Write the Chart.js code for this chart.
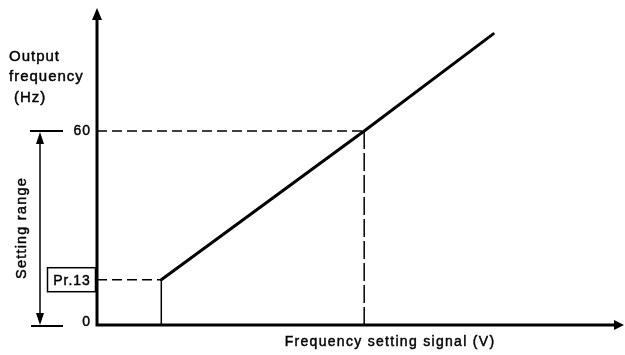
<!DOCTYPE html>
<html>
<head>
<meta charset="utf-8">
<script src="https://cdn.jsdelivr.net/npm/chart.js@4"></script>
<style>
html,body{margin:0;padding:0;background:#fff;}
canvas{display:block;}
</style>
</head>
<body>
<canvas id="c" width="625" height="355"></canvas>
<script>
// ---- data ----
const signalV = [1.22, 5.07, 7.52];        // frequency setting signal (arbitrary V units)
const outputHz = [14, 60, 90];             // output frequency (Hz)
const yTickValues = [0, 60];
const yTickLabels = ['0', '60'];
const prLabel = 'Pr.13';
const xTitle = 'Frequency setting signal (V)';
const yTitleLines = ['Output', 'frequency', '(Hz)'];
const rangeLabel = 'Setting range';

const prV = signalV[0], prHz = outputHz[0];
const ratedV = signalV[1], ratedHz = outputHz[1];

const FONT = '"Liberation Sans", Arial, sans-serif';

function heavyText(ctx, s, x, y) {
  ctx.fillText(s, x, y);
  ctx.strokeText(s, x, y);
}

const overlay = {
  id: 'overlay',
  afterDraw(chart) {
    const ctx = chart.ctx;
    const xs = chart.scales.x, ys = chart.scales.y;
    const x0 = xs.getPixelForValue(0);
    const y0 = ys.getPixelForValue(0);
    const top = chart.chartArea.top;
    const right = chart.chartArea.right;
    ctx.save();
    ctx.strokeStyle = '#000';
    ctx.fillStyle = '#000';
    // axes
    ctx.lineWidth = 3;
    ctx.beginPath();
    ctx.moveTo(x0, top + 8);
    ctx.lineTo(x0, y0);
    ctx.lineTo(right - 5, y0);
    ctx.stroke();
    // arrow heads
    ctx.beginPath();
    ctx.moveTo(x0, top);
    ctx.lineTo(x0 - 5, top + 12);
    ctx.lineTo(x0 + 5, top + 12);
    ctx.closePath();
    ctx.fill();
    ctx.beginPath();
    ctx.moveTo(right, y0);
    ctx.lineTo(right - 10, y0 - 5);
    ctx.lineTo(right - 10, y0 + 5);
    ctx.closePath();
    ctx.fill();

    // tick labels
    ctx.font = '14px ' + FONT;
    ctx.letterSpacing = '1px';
    ctx.textAlign = 'right';
    ctx.textBaseline = 'middle';
    ctx.lineWidth = 0.45;
    yTickValues.forEach((v, i) => {
      const py = ys.getPixelForValue(v);
      heavyText(ctx, yTickLabels[i], x0 - 6, py - (v === 0 ? 3 : 0));
    });

    // Pr.13 box
    const py13 = ys.getPixelForValue(prHz);
    ctx.lineWidth = 1.5;
    ctx.strokeRect(47.5, py13 - 12, 48, 24);
    ctx.textAlign = 'center';
    ctx.lineWidth = 0.45;
    heavyText(ctx, prLabel, 72, py13 + 1);

    // y title
    ctx.textAlign = 'left';
    ctx.textBaseline = 'alphabetic';
    ctx.font = '15px ' + FONT;
    heavyText(ctx, yTitleLines[0], 9, 61);
    heavyText(ctx, yTitleLines[1], 9, 81);
    heavyText(ctx, yTitleLines[2], 14, 102);

    // setting range arrow
    const py60 = ys.getPixelForValue(ratedHz);
    ctx.lineWidth = 1.5;
    ctx.beginPath();
    ctx.moveTo(40, py60 + 10); ctx.lineTo(40, y0 - 10);
    ctx.stroke();
    ctx.lineWidth = 2;
    ctx.beginPath();
    ctx.moveTo(30, py60); ctx.lineTo(63, py60);
    ctx.moveTo(31, y0 + 1); ctx.lineTo(63, y0 + 1);
    ctx.stroke();
    ctx.beginPath();
    ctx.moveTo(40, py60 + 1); ctx.lineTo(36, py60 + 13); ctx.lineTo(44, py60 + 13); ctx.closePath(); ctx.fill();
    ctx.beginPath();
    ctx.moveTo(40, y0); ctx.lineTo(36, y0 - 12); ctx.lineTo(44, y0 - 12); ctx.closePath(); ctx.fill();

    // rotated range label
    ctx.save();
    ctx.translate(22, 228);
    ctx.rotate(-Math.PI / 2);
    ctx.font = '14.5px ' + FONT;
    ctx.letterSpacing = '1.2px';
    ctx.textAlign = 'center';
    ctx.textBaseline = 'middle';
    ctx.lineWidth = 0.45;
    heavyText(ctx, rangeLabel, 0, 0);
    ctx.restore();

    // x title
    ctx.font = '14px ' + FONT;
    ctx.letterSpacing = '1.3px';
    ctx.textAlign = 'center';
    ctx.textBaseline = 'middle';
    ctx.lineWidth = 0.45;
    heavyText(ctx, xTitle, 390, 342);
    ctx.restore();
  }
};

const pts = signalV.map((v, i) => ({x: v, y: outputHz[i]}));

new Chart(document.getElementById('c'), {
  type: 'scatter',
  data: {
    datasets: [
      {data: pts, showLine: true, borderColor: '#000', borderWidth: 3, pointRadius: 0, borderCapStyle: 'round'},
      {data: [{x: 0, y: ratedHz}, {x: ratedV, y: ratedHz}], showLine: true, borderColor: '#000', borderWidth: 1.5, borderDash: [10, 5], pointRadius: 0},
      {data: [{x: ratedV, y: ratedHz}, {x: ratedV, y: 0}], showLine: true, borderColor: '#000', borderWidth: 1.5, borderDash: [18, 4], pointRadius: 0},
      {data: [{x: 0, y: prHz}, {x: prV, y: prHz}], showLine: true, borderColor: '#000', borderWidth: 1.5, borderDash: [10, 5], pointRadius: 0},
      {data: [{x: prV, y: 0}, {x: prV, y: prHz}], showLine: true, borderColor: '#000', borderWidth: 1.5, pointRadius: 0}
    ]
  },
  options: {
    responsive: false,
    animation: false,
    layout: {padding: {left: 97, right: 1, top: 8, bottom: 30}},
    plugins: {legend: {display: false}, tooltip: {enabled: false}},
    scales: {
      x: {type: 'linear', min: 0, max: 10, display: false},
      y: {type: 'linear', min: 0, max: 98, display: false}
    }
  },
  plugins: [overlay]
});
</script>
</body>
</html>
